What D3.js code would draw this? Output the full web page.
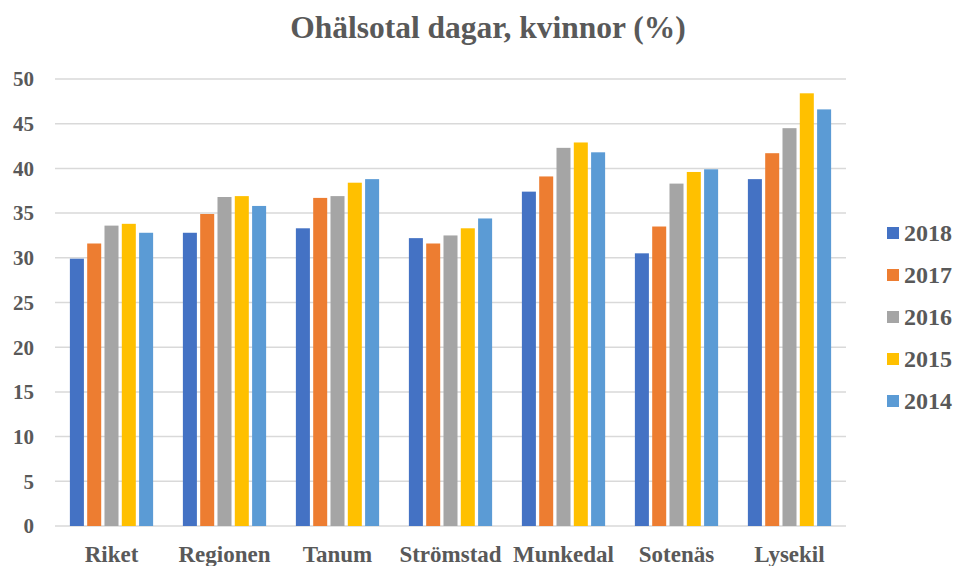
<!DOCTYPE html>
<html>
  <head>
    <meta charset="utf-8">
    <script src="https://cdn.jsdelivr.net/npm/d3@7"></script>
  </head>
  <title>Ohälsotal dagar, kvinnor</title>
  <body style="margin:0">
    <div id="chart"></div>
    <script type="text/javascript">
    // categories and years (legend order)
    var categories = ["Riket", "Regionen", "Tanum", "Strömstad", "Munkedal", "Sotenäs", "Lysekil"];
    var years = ["2018", "2017", "2016", "2015", "2014"];

    // values per year, same order as categories
    var v2018 = [29.9, 32.8, 33.3, 32.2, 37.4, 30.5, 38.8];
    var v2017 = [31.6, 34.9, 36.7, 31.6, 39.1, 33.5, 41.7];
    var v2016 = [33.6, 36.8, 36.9, 32.5, 42.3, 38.3, 44.5];
    var v2015 = [33.8, 36.9, 38.4, 33.3, 42.9, 39.6, 48.4];
    var v2014 = [32.8, 35.8, 38.8, 34.4, 41.8, 39.9, 46.6];

    var yTicks = [0, 5, 10, 15, 20, 25, 30, 35, 40, 45, 50];
    var colors = ["#4472C4", "#ED7D31", "#A5A5A5", "#FFC000", "#5B9BD5"];

    var series = {"2018": v2018, "2017": v2017, "2016": v2016, "2015": v2015, "2014": v2014};

    var width = 954, height = 566;
    var plot = {left: 55, right: 846, top: 79, bottom: 526};
    var font = "'Liberation Serif'";

    var svg = d3.select("#chart")
      .append("svg")
      .attr("width", width)
      .attr("height", height);

    // scales
    var x0 = d3.scaleBand()
      .domain(categories)
      .range([plot.left, plot.right]);

    var x1 = d3.scaleBand()
      .domain(years)
      .range([0, x0.bandwidth()])
      .paddingInner(0.19)
      .paddingOuter(0.86);

    var y = d3.scaleLinear()
      .domain([0, 50])
      .range([plot.bottom, plot.top]);

    // gridlines
    svg.append("g")
      .selectAll("line")
      .data(yTicks)
      .enter().append("line")
      .attr("x1", plot.left)
      .attr("x2", plot.right)
      .attr("y1", function(d) { return y(d); })
      .attr("y2", function(d) { return y(d); })
      .attr("stroke", "#D9D9D9")
      .attr("stroke-width", 1.5);

    // y tick labels
    svg.append("g")
      .selectAll("text")
      .data(yTicks)
      .enter().append("text")
      .attr("x", 34)
      .attr("y", function(d) { return y(d); })
      .attr("dy", "0.35em")
      .style("fill", "#595959")
      .style("font-family", font)
      .style("font-weight", "bold")
      .style("text-anchor", "end")
      .style("font-size", "21px")
      .text(function(d) { return d; });

    // bars
    var groups = svg.append("g")
      .selectAll("g")
      .data(categories)
      .enter().append("g")
      .attr("transform", function(d) { return "translate(" + x0(d) + ",0)"; });

    groups.selectAll("rect")
      .data(function(c, i) {
        return years.map(function(yr) { return {year: yr, value: series[yr][i]}; });
      })
      .enter().append("rect")
      .attr("x", function(d) { return x1(d.year); })
      .attr("y", function(d) { return y(d.value); })
      .attr("width", x1.bandwidth())
      .attr("height", function(d) { return y(0) - y(d.value); })
      .attr("fill", function(d) { return colors[years.indexOf(d.year)]; });

    // category labels
    svg.append("g")
      .selectAll("text")
      .data(categories)
      .enter().append("text")
      .attr("x", function(d) { return x0(d) + x0.bandwidth() / 2; })
      .attr("y", 562)
      .style("fill", "#595959")
      .style("font-family", font)
      .style("font-weight", "bold")
      .style("text-anchor", "middle")
      .style("font-size", "23px")
      .text(function(d) { return d; });

    // legend
    var legend = svg.append("g")
      .selectAll("g")
      .data(years)
      .enter().append("g")
      .attr("transform", function(d, i) { return "translate(887," + (233 + i * 42) + ")"; });

    legend.append("rect")
      .attr("x", 0)
      .attr("y", -6)
      .attr("width", 12)
      .attr("height", 12)
      .attr("fill", function(d, i) { return colors[i]; });

    legend.append("text")
      .attr("x", 17)
      .attr("y", 0)
      .attr("dy", "0.35em")
      .style("fill", "#595959")
      .style("font-family", font)
      .style("font-weight", "bold")
      .style("font-size", "24px")
      .text(function(d) { return d; });

    // title
    svg.append("text")
      .attr("x", 488)
      .attr("y", 38)
      .style("fill", "#595959")
      .style("font-family", font)
      .style("font-weight", "bold")
      .style("text-anchor", "middle")
      .style("font-size", "31.5px")
      .text("Ohälsotal dagar, kvinnor (%)");
    </script>
  </body>
</html>
